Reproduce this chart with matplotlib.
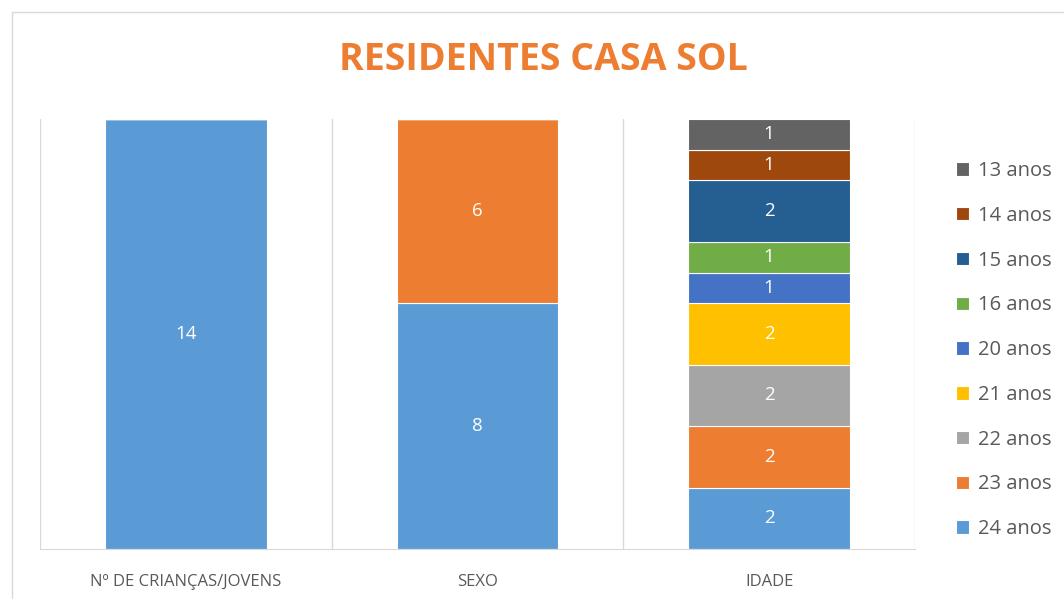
import matplotlib.pyplot as plt
import matplotlib.patches as mpatches
import numpy as np

plt.rcParams['font.family'] = ['Open Sans', 'DejaVu Sans']

categories = ['Nº DE CRIANÇAS/JOVENS', 'SEXO', 'IDADE']
series_names = ['24 anos', '23 anos', '22 anos', '21 anos', '20 anos',
                '16 anos', '15 anos', '14 anos', '13 anos']
series_values = [
    [14, 8, 2],
    [0, 6, 2],
    [0, 0, 2],
    [0, 0, 2],
    [0, 0, 1],
    [0, 0, 1],
    [0, 0, 2],
    [0, 0, 1],
    [0, 0, 1],
]
colors = ['#5B9BD5', '#ED7D31', '#A5A5A5', '#FFC000', '#4472C4',
          '#70AD47', '#255E91', '#9E480E', '#636363']

fig = plt.figure(figsize=(10.64, 5.99), dpi=100)
# outer chart frame
fig.patches.append(mpatches.Rectangle((12/1064, -0.1), 1.2, 1 - 12/599 + 0.1,
                                      transform=fig.transFigure, fill=False,
                                      edgecolor='#D9D9D9', linewidth=1))

ax = fig.add_axes([40/1064, 50/599, 875/1064, 430/599])
x = np.arange(len(categories))
bottom = np.zeros(len(categories))
handles = []
for name, vals, c in zip(series_names, series_values, colors):
    vals = np.array(vals, dtype=float)
    bars = ax.bar(x, vals, 0.555, bottom=bottom, color=c, edgecolor='white',
                  linewidth=0.8, label=name)
    handles.append(bars)
    for xi, v, b in zip(x, vals, bottom):
        if v > 0:
            ax.text(xi, b + v/2, str(int(v)), ha='center', va='center',
                    color='white', fontsize=13.5)
    bottom += vals

ax.set_xlim(-0.5, 2.5)
ax.set_ylim(0, 14)
for xl in [-0.5, 0.5, 1.5, 2.5]:
    ax.axvline(xl, color='#D9D9D9', linewidth=1, zorder=0)
for s in ['top', 'right', 'left']:
    ax.spines[s].set_visible(False)
ax.spines['bottom'].set_color('#D9D9D9')
ax.set_yticks([])
ax.set_xticks(x)
ax.set_xticklabels(categories, color='#595959', fontsize=12)
ax.tick_params(axis='x', length=0, pad=18)

fig.text(543/1064, 1 - 60/599, 'RESIDENTES CASA SOL', ha='center', va='center',
         color='#ED7D31', fontsize=27, fontweight='bold')

leg = fig.legend(handles[::-1], series_names[::-1], loc='upper left',
                 bbox_to_anchor=(946/1064, 1 - 151/599), frameon=False,
                 fontsize=14.5, labelspacing=1.23, handlelength=0.65,
                 handleheight=0.65, handletextpad=0.45, borderpad=0)
for t in leg.get_texts():
    t.set_color('#595959')

fig.savefig('out.png', dpi=100)
